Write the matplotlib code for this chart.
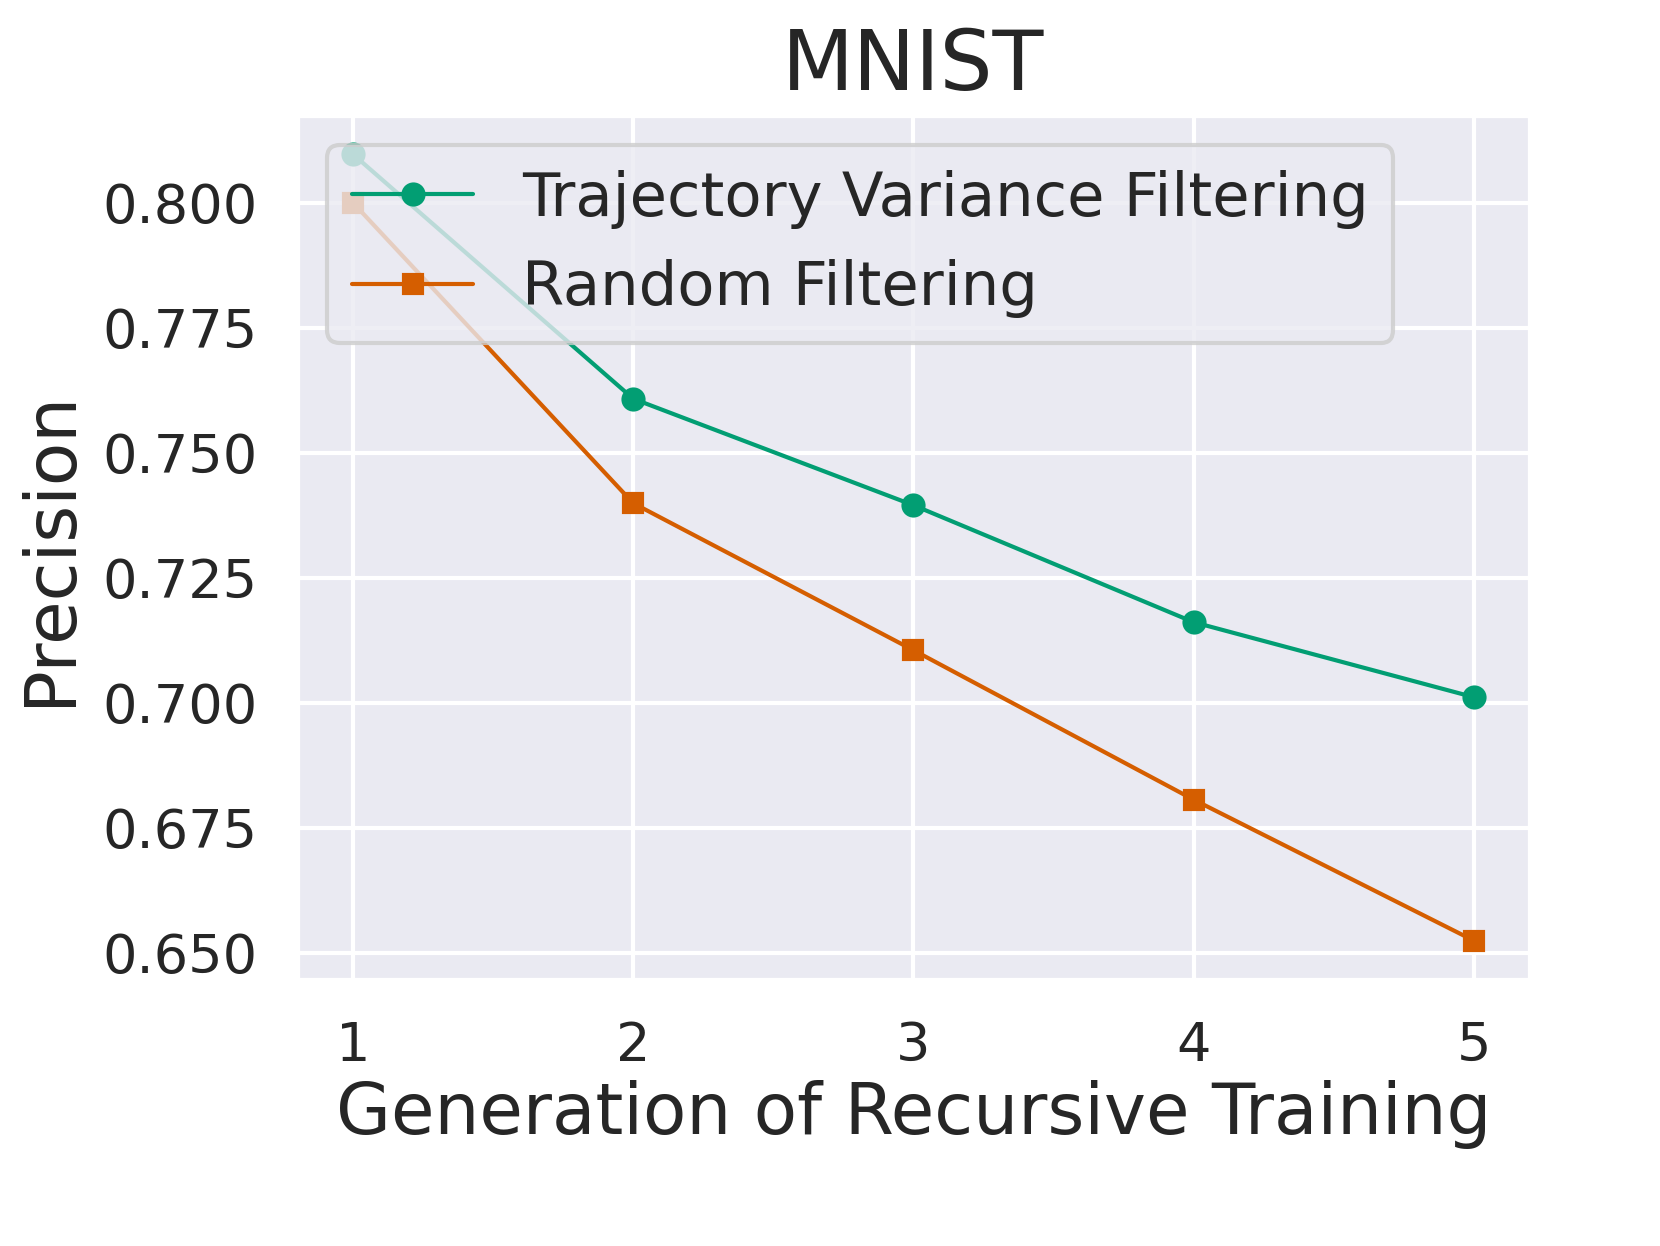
import matplotlib
matplotlib.use("Agg")
import matplotlib.pyplot as plt
import seaborn as sns

generations = [1, 2, 3, 4, 5]
tvf = [0.8097, 0.7608, 0.7395, 0.7161, 0.7011]
rnd = [0.8000, 0.7399, 0.7105, 0.6806, 0.6524]
yticks = [0.650, 0.675, 0.700, 0.725, 0.750, 0.775, 0.800]

sns.set_theme(style="darkgrid")
plt.rcParams['font.family'] = ['DejaVu Sans']

fig, ax = plt.subplots(figsize=(16.61/3, 12.46/3), dpi=300)
ax.plot(generations, tvf, color="#029E73", marker="o", markersize=4.8, linewidth=1.0,
        label="Trajectory Variance Filtering")
ax.plot(generations, rnd, color="#D55E00", marker="s", markersize=4.5, linewidth=1.0,
        label="Random Filtering")
ax.set_xticks(generations)
ax.set_yticks(yticks)
ax.set_yticklabels([f"{v:.3f}" for v in yticks])
ax.tick_params(labelsize=13)
ax.set_xlabel("Generation of Recursive Training", fontsize=17, labelpad=2)
ax.set_ylabel("Precision", fontsize=17)
ax.set_title("MNIST", fontsize=20)
ax.legend(loc="upper left", fontsize=14.6)
fig.subplots_adjust(left=297/1661, right=1530/1661, top=1-115/1246, bottom=1-980/1246)
fig.savefig("out.png", dpi=300)
